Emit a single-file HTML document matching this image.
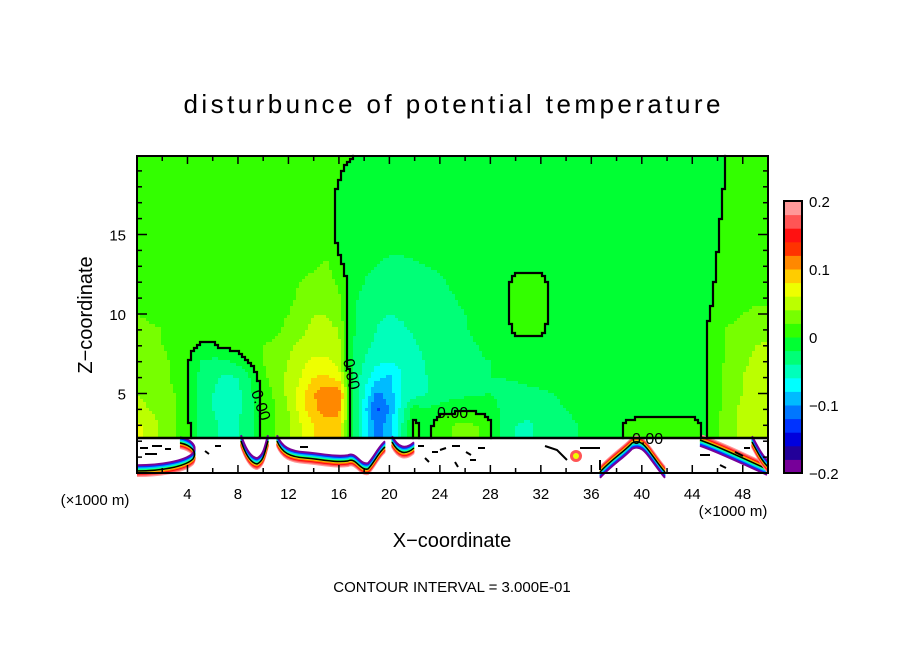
<!DOCTYPE html>
<html><head><meta charset="utf-8"><style>
html,body{margin:0;padding:0;background:#fff;}
svg{display:block;font-family:"Liberation Sans",sans-serif;}
</style></head><body>
<svg id="chart" width="904" height="654" viewBox="0 0 904 654" xmlns="http://www.w3.org/2000/svg">
<text x="452" y="113" font-size="26" text-anchor="middle" textLength="537" lengthAdjust="spacing">disturbunce of potential temperature</text>
<g id="field"></g>
<g id="bottom"></g>
<g id="contour"></g>
<g id="axes"></g>
<g id="cbar"></g>
<g font-size="16">
<text x="0" y="0" transform="translate(251,392) rotate(72)">0.00</text>
<text x="0" y="0" transform="translate(343,360) rotate(78)">0.00</text>
<text x="437" y="418">0.00</text>
<text x="632" y="444">0.00</text>
</g>
<text x="95" y="505" font-size="15" text-anchor="middle">(×1000 m)</text>
<text x="733" y="516" font-size="15" text-anchor="middle">(×1000 m)</text>
<text x="452" y="547" font-size="20" text-anchor="middle">X−coordinate</text>
<text x="0" y="0" font-size="20" text-anchor="middle" transform="translate(92,315) rotate(-90)">Z−coordinate</text>
<text x="452" y="592" font-size="15" text-anchor="middle">CONTOUR INTERVAL = 3.000E-01</text>
</svg>
<script>
// grid coordinates (km)
const gridX = [];for(let i=0;i<=50;i++)gridX.push(i);
const gridZ = [20,19,18,17,16,15,14,13,12,11,10,9,8,7,6,5,4,3,2];
// anomaly values in hundredths (0.01 K), rows top (z=20) to bottom (z=2)
const anomaly = [
[1,1,1,1,1,1,1,1,1,1, 1,1,1,1,1,1,1,0.2,-1,-1, -1,-1,-1,-1,-1,-1,-1,-1,-1,-1, -1,-1,-1,-1,-1,-1,-1,-1,-1,-1, -1,-1,-1,-1,-1,-1,-1,1,1,1, 1],
[1,1,1,1,1,1,1,1,1,1, 1,1,1,1,1,1,0.3,-1,-1,-1, -1,-1,-1,-1,-1,-1,-1,-1,-1,-1, -1,-1,-1,-1,-1,-1,-1,-1,-1,-1, -1,-1,-1,-1,-1,-1,-1,1,1,1, 1],
[1,1,1,1,1,1,1,1,1,1, 1,1,1,1,1,1,-0.2,-1,-1,-1, -1,-1,-1,-1,-1,-1,-1,-1,-1,-1, -1,-1,-1,-1,-1,-1,-1,-1,-1,-1, -1,-1,-1,-1,-1,-1,-1,1,1,1, 1],
[1,1,1,1,1,1,1,1,1,1, 1,1,1,1,1,1,-0.5,-1,-1,-1, -1,-1,-1,-1,-1,-1,-1,-1,-1,-1, -1,-1,-1,-1,-1,-1,-1,-1,-1,-1, -1,-1,-1,-1,-1,-1,-0.5,1,1,1, 1],
[1,1,1,1,1,1,1,1,1,1, 1,1,1,1,1,1,-0.5,-1,-1,-1, -1,-1,-1,-1,-1,-1,-1,-1,-1,-1, -1,-1,-1,-1,-1,-1,-1,-1,-1,-1, -1,-1,-1,-1,-1,-1,-0.3,1,1,1, 1],
[1,1,1,1,1,1,1,1,1,1, 1,1,1,1,1,1,-0.4,-1,-1,-1, -1,-1,-1,-1,-1,-1,-1,-1,-1,-1, -1,-1,-1,-1,-1,-1,-1,-1,-1,-1, -1,-1,-1,-1,-1,-1,-0.3,1,1,1, 1],
[1,1,1,1,1,1,1,1,1,1, 1,1,1,1,1,1.5,-0.2,-1,-1,-1, -1.5,-1.5,-1.2,-1,-1,-1,-1,-1,-1,-1, -1,-1,-1,-1,-1,-1,-1,-1,-1,-1, -1,-1,-1,-1,-1,-1,0,1,1,1, 1],
[1,1,1,1,1,1,1,1,1,1, 1,1,1,1,1.5,2.5,0.5,-1,-1.5,-2, -3,-3,-2.5,-2,-1.5,-1.2,-1,-1,-1,-1, -1,-1,-1,-1,-1,-1,-1,-1,-1,-1, -1,-1,-1,-1,-1,-1,0.2,1,1,1, 1],
[1,1,1,1,1,1,1,1,1,1, 1,1,1.5,2,3,3,1.5,-1,-2,-3, -3.5,-3.5,-3,-3,-2.5,-1.5,-1,-1,-1,-1.2, 1,1.2,1,-1,-1,-1,-1,-1,-1,-1, -1,-1,-1,-1,-1,-1,0.3,1,1,1, 1],
[1,1,1,1,1,1,1,1,1,1, 1,1,1.5,2.5,3.5,3.5,2.5,-1.5,-2.5,-3.5, -3.8,-3.8,-3.5,-3,-2.8,-2.2,-1.5,-1,-1,-1.5, 1.2,1.5,1.2,-1,-1,-1,-1,-1,-1,-1, -1,-1,-1,-1,-1,-1,0.5,1,1,1.5, 1.5],
[2,1.5,1,1,1,1,1,1,1,1, 1,1.5,2,3,4,4,3,-1.5,-3,-3.8, -4,-3.8,-3.5,-3.2,-3,-2.5,-2,-1.2,-1,-1.5, 1.5,1.8,1.5,-1,-1,-1,-1,-1,-1,-1, -1,-1,-1,-1,-1,-0.5,1,1,2,2.5, 2.5],
[3,2.5,2,1.5,1,1,1,1,1,1, 1,1.5,2.5,3.5,4.5,4.5,4,-1.5,-3,-4, -4.5,-4.2,-3.8,-3.5,-3,-2.8,-2.2,-1.5,-1,-1.2, 0.5,0.8,0.5,-1,-1,-1,-1,-1,-1,-1, -1,-1,-1,-1,-1,-0.3,1.2,2.5,3,3, 3],
[3,2.5,2,1.5,0.8,-0.2,-0.3,0.5,1,1.5, 2,2.5,3.5,4.5,5,5,4.5,-1.8,-3.5,-4.5, -5,-4.8,-4.2,-3.5,-3,-2.8,-2.5,-2,-1.5,-1.2, -1,-1,-1,-1,-1,-1,-1,-1,-1,-1, -1,-1,-1,-1,-1,-0.2,1.5,2.5,3,4, 4.5],
[3.5,3,2.5,1.5,0.3,-2,-2.5,-2.5,-1.5,0.5, 2,3,4,5.5,6.5,6.5,5.5,-2,-4,-5.5, -6,-5.5,-4.5,-3.8,-3,-2.8,-2.5,-2.2,-2,-1.5, -1.2,-1,-1,-1,-1,-1,-1,-1,-1,-1, -1,-1,-1,-1,-1,-0.3,1.5,2.5,3.5,4.5, 5],
[3.5,3,2.5,1.5,0.3,-2.5,-3.5,-4.5,-4,-2, 1.5,3,4.5,6,8,8.5,7,-2,-5,-7.5, -8.5,-6,-4.8,-4,-3,-2.8,-2.5,-2.2,-2,-2, -1.8,-1.5,-1.5,-1.2,-1,-1,-1,-1,-1,-1, -1,-1,-1,-1,-1,-0.5,1.5,3,4,5, 5],
[4,3.5,3,2,0.3,-2.5,-4,-5,-4.5,-2.5, 0.5,2.5,4.5,7,10,11.5,12,-1.5,-6,-10.5, -9,-6,-5,-4,-3.5,-3,-2.5,-2.2,-2,-2.5, -2.5,-2.5,-2.2,-2,-1.5,-1.2,-1,-1,-1,-1, -1,-1,-1,-1,-1,-0.5,1.5,3,4,5, 5.5],
[4.5,4,3,2,0.3,-2.5,-4,-5,-4.5,-2.5, 0.5,2,4,7,9.5,11,11,-1,-7,-12.5, -10,-5,-1,-2,-1,-0.5,-0.5,-0.5,-1,-2.5, -3,-3,-2.5,-2.5,-2,-1.5,-1,-1,-1,-1, -1,-1,-1,-1,-1,-0.5,1.5,3.5,4.5,5.5, 5.5],
[6.5,5,3.5,2,0.5,-2.5,-3.5,-4.5,-4,-2.5, 0.5,2,3.5,6,8,9,8.5,-1,-7,-11, -9,-4,0.5,-1,1.5,2,2.5,2,0.5,-3, -4,-4.5,-3,-3,-2.5,-2,-1.5,-1,-0.5,0.5, 1,1,1,1,1,-0.5,2,3.5,4.5,5, 5],
[7,5.5,3.5,2,0.5,-2.5,-3.5,-4.5,-4,-2.5, 0.5,2,3.5,6,8,9,8.5,-1,-7,-11, -9,-4,0.5,-1,1.5,2,2.5,2,0.5,-3, -4,-4.5,-3,-3,-2.5,-2,-1.5,-1,-0.5,0.5, 1,1,1,1,1,-0.5,2,3.5,4.5,5, 5]
];
const levelColors = ["#770099","#220099","#0000dd","#0033ff","#0077ff","#00bbff","#00ffff","#00ffbb","#00ff77","#00ff33","#33ff00","#77ff00","#bbff00","#eeff00","#ffcc00","#ff8800","#ff3300","#ff1111","#ff5555","#ff9999"];
const cbarTicks = [0.2,0.1,0,-0.1,-0.2];
const xTicks = [4,8,12,16,20,24,28,32,36,40,44,48];
const zTicks = [5,10,15];

const NS="http://www.w3.org/2000/svg";
const L=137,R=768,T=156,B=473,SURF=438;
const sx=x=>L+x*(R-L)/50;
const sz=z=>B-z*15.9;
function mk(tag,attrs,parent){const e=document.createElementNS(NS,tag);for(const k in attrs)e.setAttribute(k,attrs[k]);parent.appendChild(e);return e;}
function valueAt(x,z){
  let xi=Math.max(0,Math.min(49.999,x));let i=Math.floor(xi),fx=xi-i;
  let zr=20-Math.max(2,Math.min(20,z));let j=Math.min(17,Math.floor(zr)),fz=zr-j;
  const a=anomaly[j][i],b=anomaly[j][i+1],c=anomaly[j+1][i],d=anomaly[j+1][i+1];
  return (a*(1-fx)+b*fx)*(1-fz)+(c*(1-fx)+d*fx)*fz;
}
function colorIdx(v){return Math.max(0,Math.min(19,Math.floor((v+20)/2)));}
const field=document.getElementById('field');
const C=3,nc=Math.ceil((R-L)/C),nr=Math.ceil((SURF-T)/C);
const vals=[];
for(let r=0;r<nr;r++){
  const row=[];
  const py=T+r*C+C/2;const z=(B-py)/15.9;
  for(let c=0;c<nc;c++){const px=L+c*C+C/2;row.push(valueAt((px-L)/12.62,z));}
  vals.push(row);
  let start=0;
  for(let c=1;c<=nc;c++){
    if(c===nc||colorIdx(row[c])!==colorIdx(row[start])){
      const x0=L+start*C,x1=Math.min(R,L+c*C),y0=T+r*C,y1=Math.min(SURF,T+r*C+C);
      const el=mk('rect',{x:x0,y:y0,width:x1-x0+0.5,height:y1-y0+0.5,fill:levelColors[colorIdx(row[start])]},field);
      
      
      start=c;
    }
  }
}
// zero contour
let d="";
for(let r=0;r<nr;r++)for(let c=0;c<nc;c++){
  const s=vals[r][c]>=0;
  if(c+1<nc&&(vals[r][c+1]>=0)!==s){const x=L+(c+1)*C;d+=`M${x},${T+r*C}v${C}`;}
  if(r+1<nr&&(vals[r+1][c]>=0)!==s){const y=T+(r+1)*C;d+=`M${L+c*C},${y}h${C}`;}
}
const cp=mk('path',{d:d,stroke:'#000','stroke-width':2.2,fill:'none','stroke-linecap':'square'},document.getElementById('contour'));



// near-surface region (decorative)
const bot=document.getElementById('bottom');
mk('rect',{x:L,y:SURF,width:R-L,height:B-SURF,fill:'#fff'},bot);
const bandCols=["#ff9999","#ff5555","#ff1111","#ff8800","#eeff00","#33ff00","#00ffbb","#00bbff","#0033ff","#770099"];
const bands=[
 ["M137,470 C160,470 185,466 193,458 C198,450 190,444 180,442",1],
 ["M241,440 C245,452 250,462 257,463 C264,460 265,450 268,440",1],
 ["M277,440 C282,452 290,456 305,457 C320,458 335,462 348,460 C356,456 360,470 368,468 C374,462 378,452 385,446",1],
 ["M392,441 C398,452 405,455 414,447",1],
 ["M600,473 C612,460 625,452 632,444 C640,440 645,446 652,456 C658,464 662,470 665,473",-1],
 ["M700,441 C720,448 740,458 767,470",-1],
 ["M752,441 C758,452 762,460 768,466",1]
];
bands.forEach(b=>{
  bandCols.forEach((col,k)=>{
    const p=mk('path',{d:b[0],stroke:col,'stroke-width':2,fill:'none',transform:`translate(0,${-b[1]*(k-5)*1.2})`},bot);
    
    
  });
  const k=mk('path',{d:b[0],stroke:'#000','stroke-width':1.5,fill:'none',transform:`translate(0,${b[1]*1})`},bot);
  
  
});
const sb=mk('ellipse',{cx:576,cy:456,rx:6,ry:6,fill:'#ff5555'},bot);


mk('ellipse',{cx:576,cy:456,rx:3,ry:3,fill:'#eeff00'},bot);
const dash=mk('path',{d:"M140,448h8M152,446h10M145,454h12M165,449h6M205,451l4,3M215,446h6M300,447h8M440,450l6,-2M452,446h8M466,452l5,3M478,448h7M418,446h6M425,458l4,4M432,452h6M455,462l3,5M470,460h6M545,446l12,4 l10,10M580,448h20M600,470v-10M700,455h10M735,452l8,4M720,465l6,3M744,448h6",stroke:'#000','stroke-width':2,fill:'none'},bot);


const sl=mk('line',{x1:L,y1:SURF,x2:R,y2:SURF,stroke:'#000','stroke-width':2.5},bot);



// axes
const ax=document.getElementById('axes');
const fr=mk('rect',{x:L,y:T,width:R-L,height:B-T,fill:'none',stroke:'#000','stroke-width':2},ax);


for(let x=2;x<50;x+=2){
  const len=x%4===0?8:5;
  mk('line',{x1:sx(x),y1:B,x2:sx(x),y2:B-len,stroke:'#000','stroke-width':1.5},ax);
  mk('line',{x1:sx(x),y1:T,x2:sx(x),y2:T+len,stroke:'#000','stroke-width':1.5},ax);
}
for(let z=1;z<20;z++){
  const len=z%5===0?10:5;
  mk('line',{x1:L,y1:sz(z),x2:L+len,y2:sz(z),stroke:'#000','stroke-width':1.5},ax);
  mk('line',{x1:R,y1:sz(z),x2:R-len,y2:sz(z),stroke:'#000','stroke-width':1.5},ax);
}
xTicks.forEach(v=>{
  const t=mk('text',{x:sx(v),y:499,'font-size':15,'text-anchor':'middle'},ax);t.textContent=v;
  
  
});
zTicks.forEach(v=>{
  const t=mk('text',{x:126,y:sz(v)+6,'font-size':15,'text-anchor':'end'},ax);t.textContent=v;
  
  
});
// colorbar
const cb=document.getElementById('cbar');
const cT=201,cB=473,cL=784,cW=18,h=(cB-cT)/20;
levelColors.forEach((col,i)=>{
  const r=mk('rect',{x:cL,y:cB-(i+1)*h,width:cW,height:h+0.5,fill:col},cb);
  
  
});
mk('rect',{x:cL,y:cT,width:cW,height:cB-cT,fill:'none',stroke:'#000','stroke-width':2},cb);
cbarTicks.forEach(v=>{
  const y=cT+(0.2-v)/0.4*(cB-cT);
  const t=mk('text',{x:809,y:y+6,'font-size':15},cb);t.textContent=v===0?'0':(v<0?'−':'')+Math.abs(v).toFixed(1);
  
  
});
</script>
</body></html>
